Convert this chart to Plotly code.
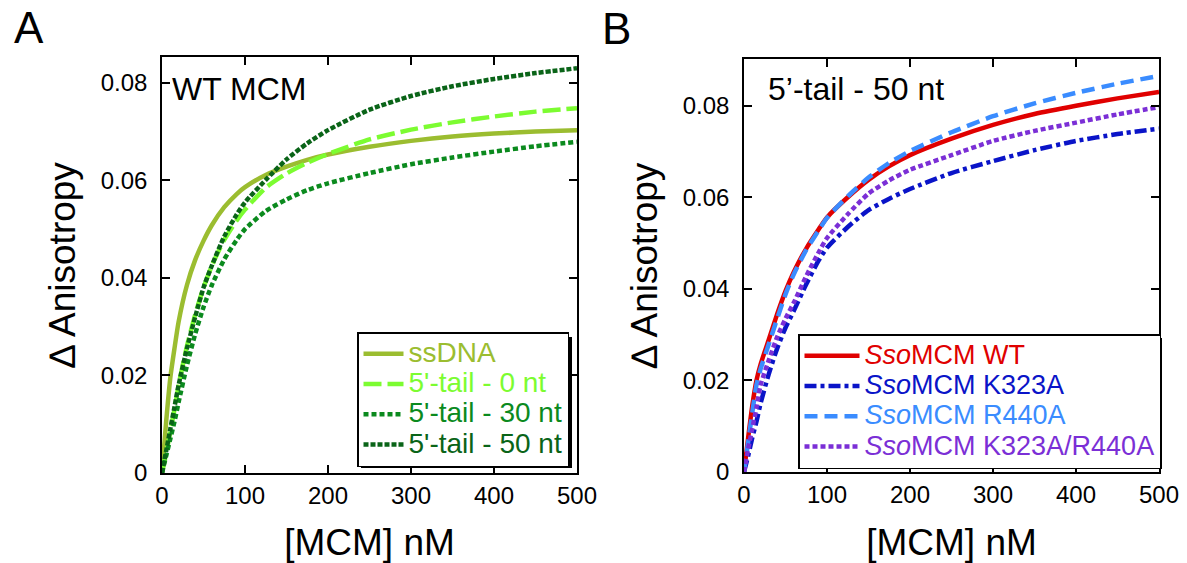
import plotly.graph_objects as go

# ---------------- data ----------------
# Panel A: WT MCM, x = [MCM] nM
xa = [0, 5, 10, 15, 20, 30, 40, 50, 60, 75, 90, 100, 125, 150, 175, 200, 250, 300, 350, 400, 450, 500]
ssdna  = [0, 0.0105, 0.0195, 0.0255, 0.0310, 0.0385, 0.0437, 0.0476, 0.0508, 0.0545, 0.0572, 0.0586,
          0.0611, 0.0628, 0.0642, 0.0653, 0.0669, 0.0681, 0.0690, 0.0696, 0.0700, 0.0703]
tail0  = [0, 0.0040, 0.0085, 0.0130, 0.0180, 0.0260, 0.0325, 0.0380, 0.0425, 0.0478, 0.0518, 0.0540,
          0.0585, 0.0614, 0.0636, 0.0654, 0.0684, 0.0704, 0.0719, 0.0731, 0.0741, 0.0748]
tail30 = [0, 0.0035, 0.0070, 0.0105, 0.0145, 0.0220, 0.0285, 0.0340, 0.0385, 0.0438, 0.0478, 0.0500,
          0.0537, 0.0561, 0.0580, 0.0594, 0.0615, 0.0633, 0.0647, 0.0659, 0.0670, 0.0679]
tail50 = [0, 0.0045, 0.0090, 0.0135, 0.0180, 0.0255, 0.0320, 0.0380, 0.0425, 0.0485, 0.0530, 0.0555,
          0.0601, 0.0643, 0.0676, 0.0703, 0.0745, 0.0773, 0.0793, 0.0808, 0.0820, 0.0830]

# Panel B: 5'-tail 50 nt, SsoMCM variants
xb = [0, 5, 10, 15, 20, 30, 40, 50, 60, 75, 90, 100, 125, 150, 175, 200, 250, 300, 350, 400, 450, 500]
wt          = [0, 0.0075, 0.0145, 0.0200, 0.0235, 0.0290, 0.0345, 0.0395, 0.0437, 0.0488, 0.0530, 0.0556,
               0.0600, 0.0638, 0.0668, 0.0692, 0.0728, 0.0758, 0.0782, 0.0800, 0.0816, 0.0830]
k323a       = [0, 0.0035, 0.0075, 0.0110, 0.0150, 0.0215, 0.0270, 0.0315, 0.0352, 0.0410, 0.0462, 0.0490,
               0.0535, 0.0572, 0.0597, 0.0618, 0.0653, 0.0679, 0.0703, 0.0723, 0.0738, 0.0750]
r440a       = [0, 0.0065, 0.0130, 0.0190, 0.0225, 0.0280, 0.0335, 0.0388, 0.0432, 0.0485, 0.0528, 0.0555,
               0.0602, 0.0643, 0.0675, 0.0701, 0.0742, 0.0777, 0.0805, 0.0828, 0.0848, 0.0865]
k323a_r440a = [0, 0.0050, 0.0095, 0.0140, 0.0190, 0.0245, 0.0295, 0.0335, 0.0370, 0.0428, 0.0480, 0.0511,
               0.0563, 0.0608, 0.0637, 0.0660, 0.0692, 0.0723, 0.0745, 0.0763, 0.0781, 0.0797]

names_a = ["ssDNA", "5'-tail - 0 nt", "5'-tail - 30 nt", "5'-tail - 50 nt"]
names_b = ["MCM WT", "MCM K323A", "MCM R440A", "MCM K323A/R440A"]
x_ticks = [0, 100, 200, 300, 400, 500]
y_ticks = [0, 0.02, 0.04, 0.06, 0.08]
y_ticktext = ["0", "0.02", "0.04", "0.06", "0.08"]

FONT = "Liberation Sans, Arial, sans-serif"
W, H = 1187, 563

fig = go.Figure()

a_styles = [
    ("#9BBD30", "solid"),
    ("#7CFC31", "18px,6px"),
    ("#0B8A1E", "5px,3px"),
    ("#0A6418", "5px,2px"),
]
for name, ys, (col, dash) in zip(names_a, [ssdna, tail0, tail30, tail50], a_styles):
    fig.add_trace(go.Scatter(
        x=xa, y=ys, mode="lines",
        line=dict(color=col, width=4.5, dash=dash, shape="spline", smoothing=0.6),
        name=f"<span style='color:{col};font-size:28px'>{name}</span>",
        xaxis="x", yaxis="y", legend="legend"))

b_styles = [
    ("#E00000", "solid"),
    ("#0A14C8", "12px,4px,4px,4px"),
    ("#3A8CFF", "13px,7px"),
    ("#7B2FD6", "5px,3px"),
]
for name, ys, (col, dash) in zip(names_b, [wt, k323a, r440a, k323a_r440a], b_styles):
    fig.add_trace(go.Scatter(
        x=xb, y=ys, mode="lines",
        line=dict(color=col, width=4.5, dash=dash, shape="spline", smoothing=0.6),
        name=f"<span style='color:{col};font-size:27px'><i>Sso</i>{name}</span>",
        xaxis="x2", yaxis="y2", legend="legend2"))


def px_x(p):
    return p / W


def px_y(p):
    return 1 - p / H


axis_common = dict(
    showline=True, linecolor="black", linewidth=1.5, mirror="ticks",
    ticks="inside", ticklen=8, tickwidth=1.5, tickcolor="black",
    showgrid=False, zeroline=False, automargin=False,
    tickfont=dict(family=FONT, size=24, color="black"),
)

legend_common = dict(
    xanchor="left", yanchor="top", bgcolor="white", bordercolor="black", borderwidth=1.5,
    font=dict(family=FONT, size=21), tracegroupgap=0,
)

# drop shadows behind the two legend boxes (pixel boxes converted to paper coords)
shadow_boxes = [(361, 337, 572, 468), (802, 338, 1162, 469)]
shapes = [dict(type="rect", xref="paper", yref="paper", layer="above",
               x0=px_x(x0), x1=px_x(x1), y0=px_y(y1), y1=px_y(y0),
               fillcolor="black", line=dict(width=0))
          for (x0, y0, x1, y1) in shadow_boxes]

fig.update_layout(
    width=W, height=H,
    margin=dict(l=0, r=0, t=0, b=0, autoexpand=False),
    paper_bgcolor="white", plot_bgcolor="white",
    font=dict(family=FONT, color="black"),
    xaxis=dict(domain=[px_x(162), px_x(577)], range=[0, 500], anchor="y",
               tickvals=x_ticks, title=dict(text="[MCM] nM", font=dict(size=37), standoff=23), **axis_common),
    yaxis=dict(domain=[px_y(473), px_y(57)], range=[0, 0.0853], anchor="x",
               tickvals=y_ticks, ticktext=y_ticktext, ticklabelstandoff=8,
               title=dict(text="∆ Anisotropy", font=dict(size=37), standoff=14), **axis_common),
    xaxis2=dict(domain=[px_x(744), px_x(1159)], range=[0, 500], anchor="y2",
                tickvals=x_ticks, title=dict(text="[MCM] nM", font=dict(size=37), standoff=23), **axis_common),
    yaxis2=dict(domain=[px_y(472), px_y(59)], range=[0, 0.0902], anchor="x2",
                tickvals=y_ticks, ticktext=y_ticktext, ticklabelstandoff=8,
                title=dict(text="∆ Anisotropy", font=dict(size=37), standoff=14), **axis_common),
    legend=dict(x=px_x(357), y=px_y(332), itemwidth=40, **legend_common),
    legend2=dict(x=px_x(798), y=px_y(334), itemwidth=55, **legend_common),
    shapes=shapes,
    annotations=[
        dict(text="A", x=px_x(12), y=px_y(27), xref="paper", yref="paper", xanchor="left", yanchor="middle",
             showarrow=False, font=dict(family=FONT, size=44, color="black")),
        dict(text="B", x=px_x(600), y=px_y(28), xref="paper", yref="paper", xanchor="left", yanchor="middle",
             showarrow=False, font=dict(family=FONT, size=44, color="black")),
        dict(text="WT MCM", x=px_x(170), y=px_y(89), xref="paper", yref="paper", xanchor="left", yanchor="middle",
             showarrow=False, font=dict(family=FONT, size=32, color="black")),
        dict(text="5’-tail - 50 nt", x=px_x(766), y=px_y(89), xref="paper", yref="paper", xanchor="left", yanchor="middle",
             showarrow=False, font=dict(family=FONT, size=32, color="black")),
    ],
)

fig.write_html("out.html", config={"displayModeBar": False},
               post_script="document.body.style.margin='0';")
